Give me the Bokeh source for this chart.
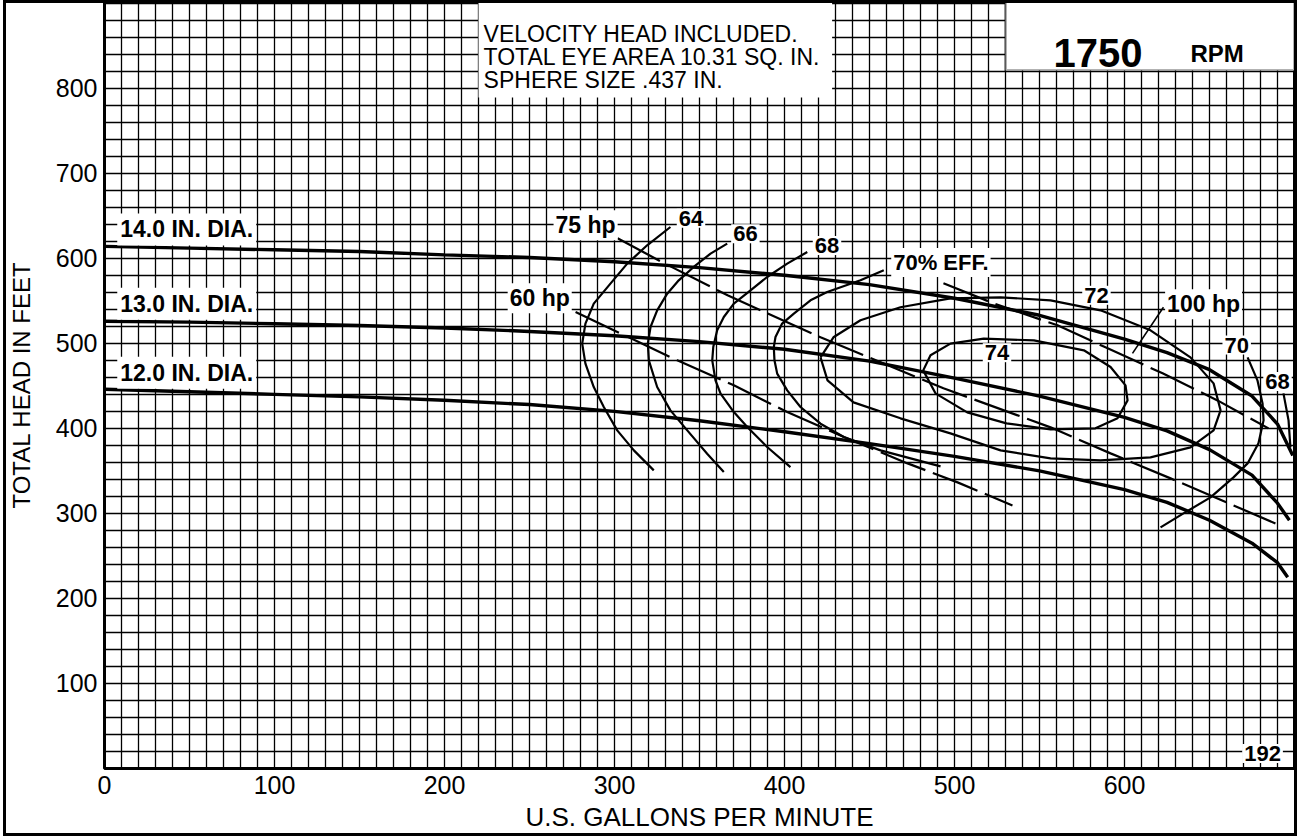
from bokeh.plotting import figure
from bokeh.models import Label, BoxAnnotation, FixedTicker, Range1d, InlineStyleSheet
from bokeh.embed import file_html
from bokeh.resources import INLINE

FONT = "Liberation Sans"

# ---------------- data ----------------
x_ticks = [0, 100, 200, 300, 400, 500, 600]
y_ticks = [100, 200, 300, 400, 500, 600, 700, 800]

# head-capacity curves (gpm, ft)
dia14_q = [0, 50, 100, 150, 200, 250, 300, 350, 400, 450, 500, 550, 600, 625, 650, 675, 690, 699]
dia14_h = [614, 612, 610, 608, 604, 601, 596, 589, 580, 569, 553, 533, 505, 489, 469, 438, 405, 368]
dia13_q = [0, 50, 100, 150, 200, 250, 300, 350, 400, 450, 500, 550, 600, 625, 650, 675, 690, 697]
dia13_h = [526, 525, 523, 521, 518, 514, 509, 502, 493, 479, 459, 438, 413, 397, 375, 345, 312, 292]
dia12_q = [0, 50, 100, 150, 200, 250, 300, 350, 400, 450, 500, 550, 600, 625, 650, 675, 690, 696]
dia12_h = [446, 443, 440, 437, 433, 428, 420, 409, 396, 382, 367, 350, 328, 313, 292, 265, 242, 225]

# efficiency contours
eff64_q = [332.9, 319.2, 307.5, 297.6, 287.8, 282.9, 281.0, 282.9, 287.8, 293.7, 301.6, 311.4, 323.1]
eff64_h = [636.8, 615.3, 593.7, 570.2, 546.7, 523.1, 499.6, 476.1, 448.6, 425.1, 397.6, 374.1, 350.6]
eff66_q = [366.3, 356.5, 346.6, 337.8, 331.0, 325.1, 321.2, 319.6, 320.2, 325.1, 332.9, 342.8, 354.5, 364.3]
eff66_h = [617.3, 605.5, 589.8, 574.1, 558.4, 538.8, 519.2, 499.6, 480.0, 448.6, 421.2, 397.6, 370.2, 348.6]
eff68_q = [413.4, 401.6, 389.8, 380.0, 370.2, 364.3, 360.4, 358.1, 357.5, 359.4, 362.4, 370.2, 378.1, 389.8, 403.5]
eff68_h = [607.4, 593.7, 578.0, 562.4, 546.7, 531.0, 515.3, 495.7, 480.0, 456.5, 440.8, 419.2, 401.6, 378.1, 354.5]
eff70a_q = [458.4, 444.7, 425.1, 415.3, 405.5, 398.6, 394.7, 393.7, 394.1, 395.7, 401.6, 409.4, 421.2, 434.9, 456.5, 491.8]
eff70a_h = [585.9, 574.1, 560.4, 550.6, 534.9, 523.2, 507.4, 495.6, 480.0, 464.4, 444.7, 425.1, 405.5, 389.8, 374.1, 355.3]
eff70b_q = [672.4, 678.2, 681.2, 681.8, 678.8, 672.4, 664.1, 650.6, 634.7, 621.2]
eff70b_h = [483.5, 456.5, 429.4, 409.4, 382.4, 358.8, 342.4, 318.8, 300.0, 283.5]
eff68b_q = [693.5, 696.5, 697.6]
eff68b_h = [441.2, 409.4, 377.6]
eff72_q = [421.2, 428.8, 444.7, 468.2, 497.6, 527.1, 556.5, 585.9, 615.3, 638.8, 652.4, 656.5,
           652.4, 638.8, 615.3, 585.9, 556.5, 527.1, 497.6, 468.2, 440.6, 425.3, 421.2]
eff72_h = [483.5, 507.1, 527.1, 542.4, 552.9, 554.1, 550.6, 538.8, 515.3, 483.5, 452.9, 421.2,
           397.6, 377.6, 365.9, 362.4, 364.7, 374.1, 394.1, 411.8, 430.6, 456.5, 483.5]
eff74_q = [481.6, 485.9, 497.6, 517.2, 546.7, 576.1, 591.8, 600.6, 601.8, 595.9, 582.9, 556.5, 530.6, 507.5, 488.8, 481.6]
eff74_h = [468.2, 485.9, 499.6, 505.5, 503.5, 491.8, 472.2, 450.6, 432.9, 411.8, 400.0, 398.8, 405.9, 418.8, 441.2, 468.2]

# horsepower lines
hp60_q = [277.1, 336.9, 370.2, 401.6, 434.9, 472.4, 501.8, 534.1]
hp60_h = [536.8, 480.0, 450.6, 419.2, 389.8, 358.8, 336.5, 309.4]
hp75_q = [301.8, 328.2, 366.5, 421.2, 493.5, 556.5, 591.8, 627.1, 688.8]
hp75_h = [623.5, 595.3, 556.5, 507.1, 447.1, 401.2, 370.6, 341.2, 288.2]
hp100_q = [493.5, 522.9, 560.6, 588.8, 622.4, 654.7, 684.7]
hp100_h = [570.6, 547.1, 521.2, 495.3, 464.7, 432.9, 400.0]
hp100_leader_q = [622.9, 604.7]
hp100_leader_h = [542.4, 488.2]

dia_labels = ["14.0 IN. DIA.", "13.0 IN. DIA.", "12.0 IN. DIA."]
note_lines = ["VELOCITY HEAD INCLUDED.", "TOTAL EYE AREA 10.31 SQ. IN.", "SPHERE SIZE .437 IN."]
speed_text = "1750"
speed_unit = "RPM"
curve_no = "192"

# ---------------- figure ----------------
p = figure(width=1301, height=837, x_range=Range1d(0, 700), y_range=Range1d(0, 902),
           output_backend="svg", toolbar_location=None,
           min_border_left=104, min_border_right=7, min_border_top=1, min_border_bottom=69)
p.stylesheets = [InlineStyleSheet(css=(
    ":host::after { content: ''; position: absolute; left: 3px; top: 0px; "
    "width: 1294px; height: 836px; box-sizing: border-box; border: 3px solid #000; "
    "z-index: 1000; pointer-events: none; }"))]
p.background_fill_color = "white"
p.border_fill_color = "white"
p.outline_line_color = "black"
p.outline_line_width = 3

p.xaxis.ticker = FixedTicker(ticks=x_ticks)
p.yaxis.ticker = FixedTicker(ticks=y_ticks)
for ax in (p.xaxis[0], p.yaxis[0]):
    ax.axis_line_color = None
    ax.major_tick_line_color = None
    ax.minor_tick_line_color = None
    ax.major_tick_out = 0
    ax.major_tick_in = 0
    ax.minor_tick_out = 0
    ax.major_label_text_font = FONT
    ax.major_label_text_font_size = "25px"
    ax.major_label_text_color = "black"
    ax.axis_label_text_font = FONT
    ax.axis_label_text_font_style = "normal"
    ax.axis_label_text_color = "black"
p.xaxis.axis_label = "U.S. GALLONS PER MINUTE"
p.yaxis.axis_label = "TOTAL HEAD IN FEET"
p.xaxis.axis_label_text_font_size = "26px"
p.yaxis.axis_label_text_font_size = "24px"
p.xaxis.major_label_standoff = 7
p.xaxis.axis_label_standoff = 5
p.yaxis.major_label_standoff = 7
p.yaxis.axis_label_standoff = 18

p.xgrid.ticker = FixedTicker(ticks=list(range(0, 700, 10)))
p.ygrid.ticker = FixedTicker(ticks=list(range(0, 902, 20)))
for g in (p.xgrid[0], p.ygrid[0]):
    g.grid_line_color = "#000000"
    g.grid_line_width = 1.3

# white box behind the notes
p.add_layout(BoxAnnotation(left=220, right=428, bottom=789, top=None,
                           fill_color="white", fill_alpha=1, line_color=None, level="underlay"))

# head curves
for q, h in ((dia14_q, dia14_h), (dia13_q, dia13_h), (dia12_q, dia12_h)):
    p.line(q, h, line_color="black", line_width=3.4)

# efficiency curves
for q, h in ((eff64_q, eff64_h), (eff66_q, eff66_h), (eff68_q, eff68_h), (eff70a_q, eff70a_h),
             (eff70b_q, eff70b_h), (eff68b_q, eff68b_h), (eff72_q, eff72_h), (eff74_q, eff74_h)):
    p.line(q, h, line_color="black", line_width=2.2)

# hp lines
for q, h in ((hp60_q, hp60_h), (hp75_q, hp75_h), (hp100_q, hp100_h)):
    p.line(q, h, line_color="black", line_width=2.2, line_dash="48 8")
p.line(hp100_leader_q, hp100_leader_h, line_color="black", line_width=1.6)

# RPM box
p.add_layout(BoxAnnotation(left=530, right=None, bottom=821, top=None,
                           fill_color="white", fill_alpha=1, line_color="black", line_width=3))


def lab(x, y, text, size="22px", bold=True, align="center", baseline="middle", bg=True, pad=2):
    kw = dict(x=x, y=y, text=text, text_font=FONT, text_font_size=size,
              text_font_style="bold" if bold else "normal", text_color="black",
              text_align=align, text_baseline=baseline)
    if bg:
        kw.update(background_fill_color="white", background_fill_alpha=1.0, padding=pad)
    p.add_layout(Label(**kw))


lab(7.5, 634, dia_labels[0], size="23px", align="left", pad=3)
lab(7.5, 546.5, dia_labels[1], size="23px", align="left", pad=3)
lab(7.5, 465.3, dia_labels[2], size="23px", align="left", pad=3)

lab(283, 639, "75 hp", size="23px")
lab(256, 553, "60 hp", size="23px")
lab(345, 647, "64")
lab(377, 629, "66")
lab(425, 615, "68")
lab(492, 595, "70% EFF.")
lab(583.5, 556.5, "72")
lab(525, 489, "74")
lab(646.5, 546, "100 hp", size="23px")
lab(666, 498, "70")
lab(690, 455, "68")
lab(681.2, 17.6, curve_no)

for i, t in enumerate(note_lines):
    lab(223, 863.5 - i * 27.1, t, size="23px", bold=False, align="left", bg=False)

lab(558.2, 841, speed_text, size="40px", align="left", baseline="alphabetic", bg=False)
lab(638.8, 841, speed_unit, size="24px", align="left", baseline="alphabetic", bg=False)

open("out.html", "w").write(file_html(p, INLINE))
